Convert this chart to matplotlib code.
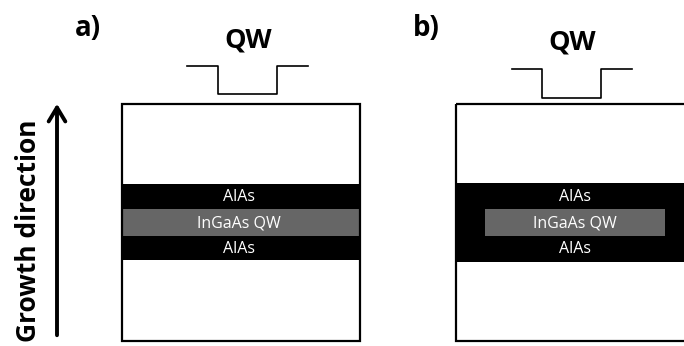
import matplotlib.pyplot as plt
from matplotlib.patches import Rectangle

# panel labels and layer names
panel_labels = ['a)', 'b)']
well_label = 'QW'
layer_names = ['AlAs', 'InGaAs QW', 'AlAs']
axis_label = 'Growth direction'

# pixel geometry of each panel (image coords, y down)
boxes = [(122, 104, 360, 341), (456, 104, 700, 341)]     # x0, y0, x1, y1
barrier = [(184, 260), (183, 262)]                       # black AlAs band
qw_band = [(122, 360, 209, 236), (485, 665, 209, 236)]    # gray InGaAs band
wells = [
    # x_left_start, x_drop, x_rise, x_end, y_top, y_bottom
    (187, 218, 277, 308, 66, 94),
    (512, 542, 601, 632, 69, 98),
]
label_pos = [(88, 28), (426, 28)]
qw_text_pos = [(248, 40), (572, 42)]
layer_text_y = [197, 223, 249]

fig = plt.figure(figsize=(6.84, 3.46), dpi=100)
ax = fig.add_axes([0, 0, 1, 1])
ax.set_xlim(0, 684)
ax.set_ylim(346, 0)
ax.axis('off')

for i in range(2):
    x0, y0, x1, y1 = boxes[i]
    by0, by1 = barrier[i]
    gx0, gx1, gy0, gy1 = qw_band[i]
    ax.add_patch(Rectangle((x0, by0), x1 - x0, by1 - by0, color='black', lw=0))
    ax.add_patch(Rectangle((gx0, gy0), gx1 - gx0, gy1 - gy0, color='#666666', lw=0))
    ax.add_patch(Rectangle((x0, y0), x1 - x0, y1 - y0, fill=False, ec='black', lw=1.6))

    cx = 239 if i == 0 else (gx0 + gx1) / 2
    for name, ty in zip(layer_names, layer_text_y):
        ax.text(cx, ty, name, color='white', fontsize=11.5,
                ha='center', va='center', family='Open Sans')

    xa, xb, xc, xd, yt, yb = wells[i]
    ax.plot([xa, xb, xb, xc, xc, xd], [yt, yt, yb, yb, yt, yt], color='black', lw=1.2)

    ax.text(*qw_text_pos[i], well_label, fontsize=19.5, fontweight='bold',
            ha='center', va='center', family='Open Sans')
    ax.text(*label_pos[i], panel_labels[i], fontsize=20, fontweight='bold',
            ha='center', va='center', family='Open Sans')

# growth direction arrow
ax.annotate('', xy=(57, 101), xytext=(57, 338),
            arrowprops=dict(arrowstyle='->,head_length=1.0,head_width=0.6',
                            lw=2.8, color='black'))
ax.text(29, 231, axis_label, rotation=90, fontsize=19, fontweight='bold',
        ha='center', va='center', family='Open Sans')

fig.savefig('out.png', dpi=100)
